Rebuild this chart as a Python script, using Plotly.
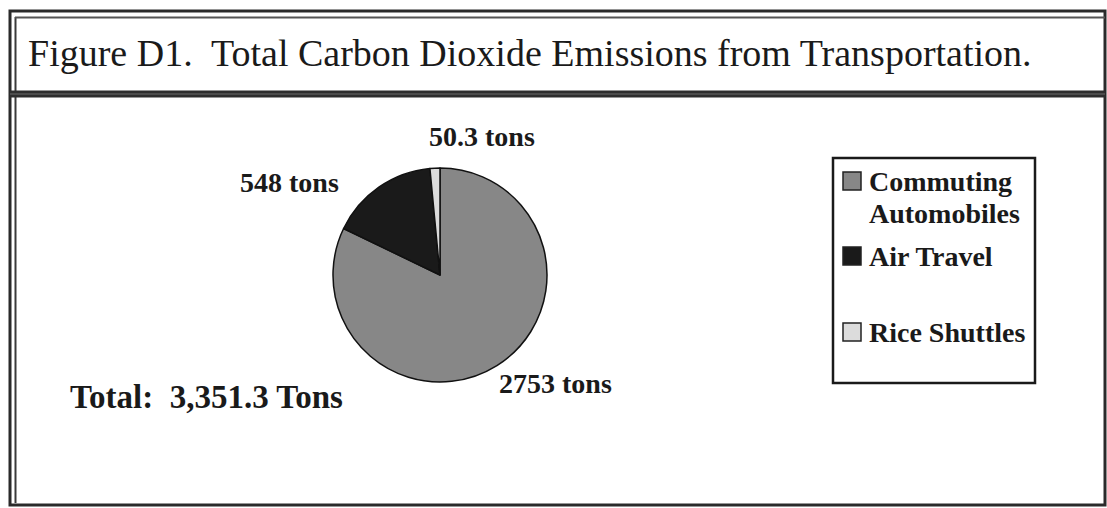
import plotly.graph_objects as go

# Emissions by transportation mode (tons of CO2)
categories = ["Commuting Automobiles", "Air Travel", "Rice Shuttles"]
legend_lines = [["Commuting", "Automobiles"], ["Air Travel"], ["Rice Shuttles"]]
tons = [2753, 548, 50.3]
total_tons = 3351.3

title_text = "Figure D1.  Total Carbon Dioxide Emissions from Transportation."
slice_colors = ["#878787", "#1a1a1a", "#dcdcdc"]

W, H = 1107, 508
SERIF = "Liberation Serif, Times New Roman, serif"


def px(x):
    """Pixel x (from left) -> paper fraction."""
    return x / W


def py(y):
    """Pixel y (from top) -> paper fraction."""
    return 1 - y / H


fig = go.Figure()

# Pie: centre (440, 275) px, radius ~107 px
cx, cy, r = 440, 275, 107
fig.add_trace(go.Pie(
    labels=categories,
    values=tons,
    sort=False,
    direction="clockwise",
    rotation=0,
    textinfo="none",
    hoverinfo="label+value",
    showlegend=False,
    marker=dict(colors=slice_colors, line=dict(color="#111111", width=1.5)),
    domain=dict(x=[px(cx - r), px(cx + r)], y=[py(cy + r), py(cy - r)]),
))

shapes = []
annotations = []


def rect(x0, y0, x1, y1, **kw):
    shapes.append(dict(type="rect", xref="paper", yref="paper",
                       x0=px(x0), y0=py(y0), x1=px(x1), y1=py(y1), **kw))


def line(x0, y0, x1, y1, color, width):
    shapes.append(dict(type="line", xref="paper", yref="paper",
                       x0=px(x0), y0=py(y0), x1=px(x1), y1=py(y1),
                       line=dict(color=color, width=width)))


def text(x, y, s, size, xanchor="center"):
    annotations.append(dict(xref="paper", yref="paper", x=px(x), y=py(y), text=s,
                            showarrow=False, xanchor=xanchor, yanchor="middle",
                            font=dict(family=SERIF, size=size, color="#1a1a1a")))


# Double-ruled outer frame
rect(10, 11, 1105, 505, line=dict(color="#2a2a2a", width=3))
line(15.5, 17, 15.5, 503, "#3a3a3a", 2)
line(15, 17.5, 1105, 17.5, "#555555", 2)
# Heavy rule under the title
line(10, 94, 1105, 94, "#2e2e2e", 7)
line(10, 94, 1105, 94, "#6a6a6a", 1)

text(530, 53, title_text, 38)

# Value labels around the pie
label_pos = [(555, 383), (289, 182), (482, 137)]
for v, (lx, ly) in zip(tons, label_pos):
    text(lx, ly, f"<b>{v:g} tons</b>", 28)

text(68, 397, f"<b>Total:  {total_tons:,.1f} Tons</b>", 33, xanchor="left")

# Legend box
rect(833, 158, 1035, 383, line=dict(color="#1a1a1a", width=2.5))
entry_y = [181, 256, 332]
for lines, col, ey in zip(legend_lines, slice_colors, entry_y):
    rect(843, ey - 9, 861, ey + 9, fillcolor=col, line=dict(color="#222222", width=1.5))
    for i, ln in enumerate(lines):
        text(867, ey + i * 33, f"<b>{ln}</b>", 28, xanchor="left")

fig.update_layout(
    width=W, height=H,
    margin=dict(l=0, r=0, t=0, b=0),
    paper_bgcolor="white",
    shapes=shapes, annotations=annotations,
    showlegend=False,
)

fig.write_html("out.html")
